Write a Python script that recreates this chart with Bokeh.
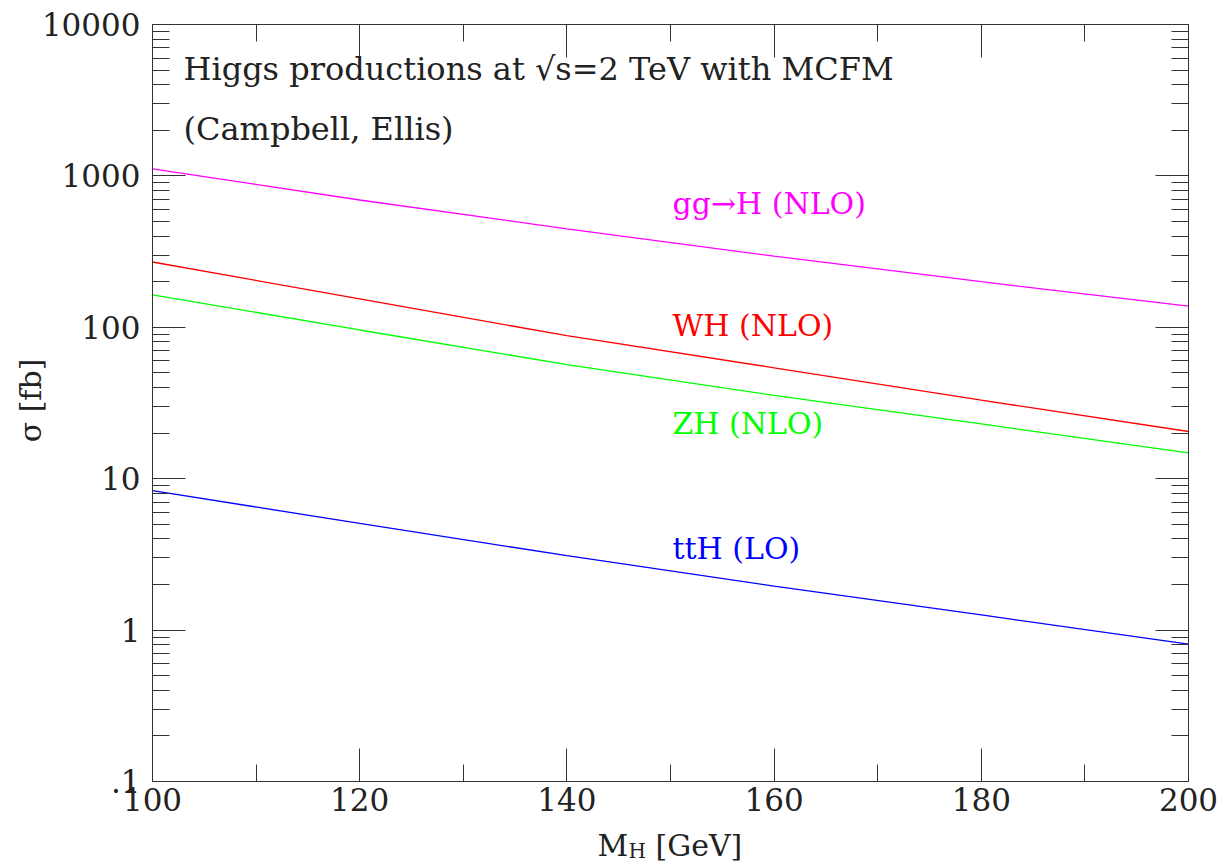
import math
from bokeh.plotting import figure
from bokeh.models import (Label, LinearAxis, LogAxis, FixedTicker,
                          CustomJSTickFormatter, Range1d)
from bokeh.embed import file_html
from bokeh.resources import INLINE

# ---- data ----
mass = [100, 120, 140, 160, 180, 200]
gg_h = [1112, 693, 447, 295, 200, 138]
wh = [270, 154, 88, 54, 33, 20.5]
zh = [164, 96, 56.7, 35.5, 23, 14.8]
tth = [8.33, 5.07, 3.10, 1.95, 1.26, 0.808]

series_names = ["gg→H (NLO)", "WH (NLO)", "ZH (NLO)", "ttH (LO)"]
series_colors = ["#ff00ff", "#ff0000", "#00ff00", "#0000ff"]

x_ticks = [100, 120, 140, 160, 180, 200]
x_minor = [110, 130, 150, 170, 190]
y_ticks = [0.1, 1, 10, 100, 1000, 10000]
y_tick_labels = [".1", "1", "10", "100", "1000", "10000"]

title_lines = ["Higgs productions at √s=2 TeV with MCFM", "(Campbell, Ellis)"]

# ---- layout: the frame covers the whole canvas, axes are pinned ----
W, H = 1223, 867
L, R, T, B = 152, 35, 24, 86          # where the axes box sits on the canvas
FW, FH = W - L - R, H - T - B
XMIN, XMAX = 100, 200
YMIN, YMAX = 0.1, 10000
LLO, LHI = math.log10(YMIN), math.log10(YMAX)
SHIFT = 12                              # text baseline correction (px)

def px2x(px):
    return XMIN + (px - L) / FW * (XMAX - XMIN)

def py2y(py):
    return 10 ** (LHI - (py - T) / FH * (LHI - LLO))

FONT = "DejaVu Serif"
TXT = "#222222"
AX = "#333333"

p = figure(width=W, height=H, y_axis_type="log",
           x_range=Range1d(px2x(0), px2x(W)), y_range=Range1d(py2y(H), py2y(0)),
           output_backend="svg", toolbar_location=None,
           min_border_left=0, min_border_right=0,
           min_border_top=0, min_border_bottom=0)
p.grid.visible = False
p.outline_line_color = None
p.background_fill_color = "white"
p.border_fill_color = "white"

y_minor = [k * 10 ** n for n in range(-1, 4) for k in range(2, 10)]
yfmt = CustomJSTickFormatter(args=dict(tv=y_ticks, tl=y_tick_labels), code="""
for (let i = 0; i < tv.length; i++) {
  if (Math.abs(Math.log10(tick / tv[i])) < 1e-6) return tl[i];
}
return '';
""")
blank = CustomJSTickFormatter(code="return '';")

def style_axis(ax, show_labels):
    ax.axis_line_color = AX
    ax.axis_line_width = 1
    ax.major_tick_in = 33
    ax.major_tick_out = 0
    ax.minor_tick_in = 17
    ax.minor_tick_out = 0
    ax.major_tick_line_color = AX
    ax.minor_tick_line_color = AX
    ax.major_label_text_font = FONT
    ax.major_label_text_font_size = "31px"
    ax.major_label_text_color = TXT
    if not show_labels:
        ax.formatter = blank
        ax.major_label_standoff = 0

xb = p.xaxis[0]
xb.ticker = FixedTicker(ticks=x_ticks, minor_ticks=x_minor)
xb.fixed_location = YMIN
xb.bounds = (XMIN, XMAX)
style_axis(xb, True)
xb.major_label_standoff = 6

yl = p.yaxis[0]
yl.ticker = FixedTicker(ticks=y_ticks, minor_ticks=y_minor)
yl.formatter = yfmt
yl.fixed_location = XMIN
yl.bounds = (YMIN, YMAX)
style_axis(yl, True)
yl.major_label_standoff = 12

xt = LinearAxis(ticker=FixedTicker(ticks=x_ticks, minor_ticks=x_minor),
                fixed_location=YMAX, bounds=(XMIN, XMAX))
style_axis(xt, False)
p.add_layout(xt, "above")
yr = LogAxis(ticker=FixedTicker(ticks=y_ticks, minor_ticks=y_minor),
             fixed_location=XMAX, bounds=(YMIN, YMAX))
style_axis(yr, False)
p.add_layout(yr, "right")

for ys, c in zip([gg_h, wh, zh, tth], series_colors):
    p.line(mass, ys, line_color=c, line_width=1.3)

def text(px, py, s, color=TXT, size="30px", angle=0.0):
    p.add_layout(Label(x=px2x(px), y=py2y(py), text=s, text_color=color,
                       text_font=FONT, text_font_size=size, angle=angle,
                       text_baseline="alphabetic",
                       text_align="center" if angle else "left"))

# series labels (baseline positions)
lab_px = [(672, 215), (672, 337), (672, 435), (672, 560)]
for name, c, (lx, ly) in zip(series_names, series_colors, lab_px):
    text(lx, ly - SHIFT, name, color=c)

# title lines
for line, by in zip(title_lines, [80, 140]):
    text(183, by - SHIFT, line, size="32px")

# axis labels
text(597, 857 - SHIFT, "M")
text(628, 862 - SHIFT, "H", size="20px")
text(655, 857 - SHIFT, "[GeV]")
text(42 - SHIFT, 400, "σ [fb]", angle=math.pi / 2)

open("out.html", "w").write(file_html(p, INLINE))
